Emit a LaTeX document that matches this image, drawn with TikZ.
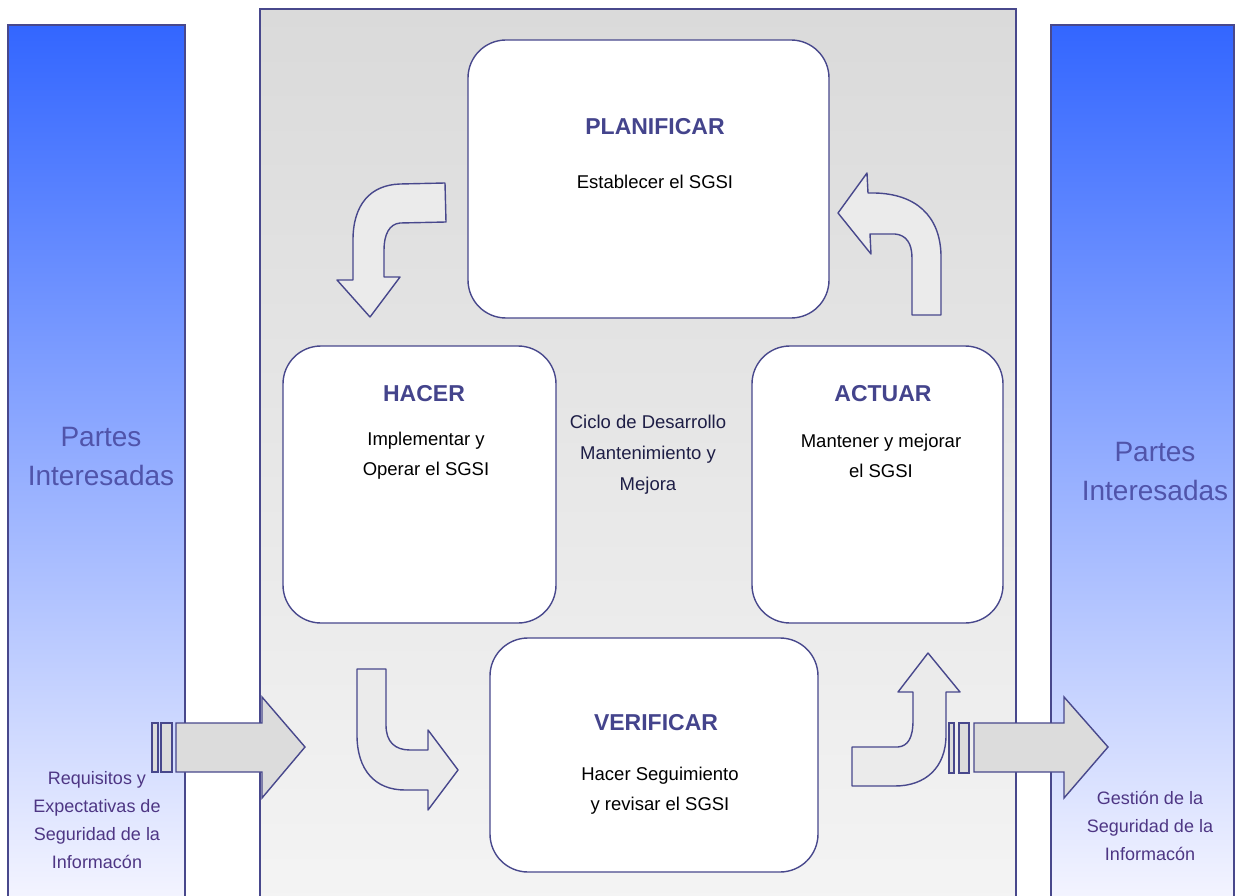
\documentclass[tikz,border=0pt]{standalone}
\usepackage{fontspec}
\setmainfont{Liberation Sans}
\definecolor{edge}{RGB}{72,72,140}
\definecolor{titlec}{RGB}{68,68,140}
\definecolor{partesc}{RGB}{80,84,170}
\definecolor{sidec}{RGB}{78,54,132}
\definecolor{cicloc}{RGB}{30,30,70}
\definecolor{colTop}{RGB}{51,102,255}
\definecolor{colMid}{RGB}{170,186,250}
\definecolor{colBot}{RGB}{246,246,255}
\definecolor{ctrTop}{RGB}{218,218,218}
\definecolor{ctrBot}{RGB}{244,244,244}
\definecolor{arrowfill}{RGB}{235,235,235}
\definecolor{sarrowfill}{RGB}{220,220,220}
\tikzset{
  colbox/.style={draw=edge,line width=1.4pt,top color=colTop,middle color=colMid,bottom color=colBot},
  phasebox/.style={draw=edge,line width=1.4pt,fill=white,rounded corners=38pt},
  curvarrow/.style={draw=edge,line width=1.4pt,fill=arrowfill,line join=round},
  strarrow/.style={draw=edge,line width=1.4pt,fill=sarrowfill,line join=miter},
  titletxt/.style={font=\fontsize{23}{28}\selectfont\bfseries,text=titlec,inner sep=0pt},
  bodytxt/.style={font=\fontsize{18.5}{30}\selectfont,text=black,align=center,inner sep=0pt},
  partestxt/.style={font=\fontsize{28}{39}\selectfont,text=partesc,align=center,inner sep=0pt},
  sidetxt/.style={font=\fontsize{18}{28}\selectfont,text=sidec,align=center,inner sep=0pt},
  ciclotxt/.style={font=\fontsize{18.5}{31}\selectfont,text=cicloc,align=center,inner sep=0pt}
}
\begin{document}
\begin{tikzpicture}[x=1pt,y=-1pt]
\useasboundingbox (0,0) rectangle (1242,896);
\clip (0,0) rectangle (1242,896);
% side columns
\path[colbox] (8,25) rectangle (185,910);
\path[colbox] (1051,25) rectangle (1234,910);
% centre panel
\path[draw=edge,line width=1.4pt,top color=ctrTop,bottom color=ctrBot] (260,9) rectangle (1016,910);
% phase boxes
\node[phasebox,minimum width=361pt,minimum height=278pt] (plan) at (648.5,179) {};
\node[phasebox,minimum width=273pt,minimum height=277pt] (hacer) at (419.5,484.5) {};
\node[phasebox,minimum width=251pt,minimum height=277pt] (actuar) at (877.5,484.5) {};
\node[phasebox,minimum width=328pt,minimum height=234pt] (verif) at (654,755) {};
% texts in boxes
\node[titletxt] (plant) at (655,127) {PLANIFICAR};
\node[bodytxt] (planb) at (655,182) {Establecer el SGSI};
\node[titletxt] (hacert) at (424,394) {HACER};
\node[bodytxt] (hacerb) at (426,456) {Implementar y\\Operar el SGSI};
\node[titletxt] (actuart) at (883,394) {ACTUAR};
\node[bodytxt] (actuarb) at (881,456) {Mantener y mejorar\\el SGSI};
\node[titletxt] (veriftt) at (656,723) {VERIFICAR};
\node[bodytxt] (verifb) at (660,790.5) {Hacer Seguimiento\\y revisar el SGSI};
\node[ciclotxt] (ciclo) at (648,455) {Ciclo de Desarrollo\\Mantenimiento y\\Mejora};
% side texts
\node[partestxt] (partesL) at (101,456.5) {Partes\\Interesadas};
\node[partestxt] (partesR) at (1155,471.5) {Partes\\Interesadas};
\node[sidetxt] (reqL) at (97,820) {Requisitos y\\Expectativas de\\Seguridad de la\\Informacón};
\node[sidetxt] (gestR) at (1150,825.5) {Gestión de la\\Seguridad de la\\Informacón};
% curved arrows
\path[curvarrow] (445,183) -- (446,222) -- (400,223)
  .. controls (389,224) and (384,235) .. (384,250) -- (384,277) -- (400,277)
  -- (370,317) -- (337,280) -- (353,280) -- (353,240)
  .. controls (353,205) and (370,185) .. (400,184) -- cycle;
\path[curvarrow] (912,315) -- (941,315) -- (941,255)
  .. controls (940,215) and (915,194) .. (875,193) -- (868,193) -- (867,173)
  -- (838,213) -- (871,254) -- (870,234) -- (895,234)
  .. controls (906,235) and (912,243) .. (912,258) -- cycle;
\path[curvarrow] (357,669) -- (386,669) -- (386,725)
  .. controls (386,742) and (395,750) .. (410,750) -- (428,750) -- (428,730)
  -- (458,770) -- (428,810) -- (428,790) -- (405,790)
  .. controls (375,790) and (357,770) .. (357,735) -- cycle;
\path[curvarrow] (852,786) -- (852,747) -- (898,747)
  .. controls (908,746) and (913,738) .. (913,720) -- (913,692) -- (898,692)
  -- (928,653) -- (960,692) -- (946,692) -- (946,735)
  .. controls (946,768) and (925,786) .. (895,786) -- cycle;
% straight arrows
\path[strarrow] (152,723) rectangle (158,772);
\path[strarrow] (161,723) rectangle (172,772);
\path[strarrow] (176,723) -- (262,723) -- (262,697) -- (305,747) -- (262,798) -- (262,772) -- (176,772) -- cycle;
\path[strarrow] (949,723) rectangle (954,773);
\path[strarrow] (959,723) rectangle (969,773);
\path[strarrow] (974,723) -- (1064,723) -- (1064,697) -- (1108,747) -- (1064,798) -- (1064,772) -- (974,772) -- cycle;
\end{tikzpicture}
\end{document}
